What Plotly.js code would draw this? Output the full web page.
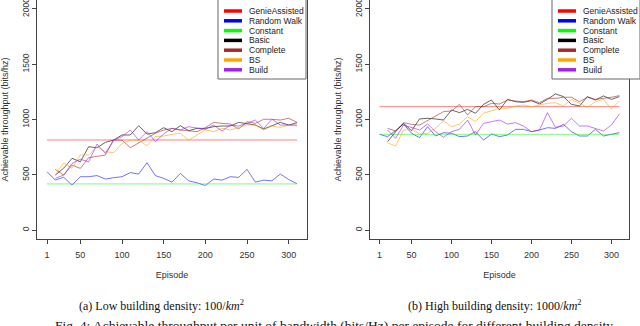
<!DOCTYPE html>
<html>
<head>
<meta charset="utf-8">
<script src="https://cdn.plot.ly/plotly-3.0.1.min.js"></script>
<style>
  html, body { margin: 0; padding: 0; background: #fff; }
  #plot { width: 640px; height: 326px; }
</style>
</head>
<body>
<div id="plot"></div>
<script>
// episode index (points every ~10 episodes), tick labels in episodes
let episodeIdx = [1,2,3,4,5,6,7,8,9,10,11,12,13,14,15,16,17,18,19,20,21,22,23,24,25,26,27,28,29,30,31];
let tickIdx = [1, 5, 10, 15, 20, 25, 30];
let tickText = ['1', '50', '100', '150', '200', '250', '300'];
let flatX = [1, 31];

// (a) low building density
let genieLow = [815, 815];
let constantLow = [418, 418];
let randomWalkLow = [528, 452, 478, 407, 483, 483, 493, 462, 474, 483, 520, 507, 609, 493, 468, 434, 513, 446, 428, 404, 462, 452, 483, 477, 549, 434, 452, 446, 507, 458, 419];
let basicLow = [null, 498, 560, 649, 618, 754, 745, 793, 814, 860, 860, 944, 868, 881, 926, 890, 944, 899, 920, 920, 935, 941, 941, 974, 965, 950, 914, 941, 974, 950, 971];
let completeLow = [null, 549, 498, 588, 558, 655, 664, 679, 814, 814, 745, 790, 830, 875, 905, 920, 905, 899, 890, 926, 974, 965, 959, 914, 980, 965, 1002, 1002, 995, 1011, 974];
let bsLow = [null, 500, 609, 560, 679, 679, 754, 709, 700, 784, 814, 814, 763, 845, 851, 866, 875, 814, 860, 905, 890, 920, 905, 929, 950, 950, 905, 941, 929, 950, 941];
let buildLow = [null, 468, 498, 603, 640, 618, 778, 694, 814, 845, 905, 814, 890, 800, 869, 920, 905, 935, 920, 911, 950, 896, 950, 941, 965, 995, 920, 1002, 950, 950, 950];

// (b) high building density
let genieHigh = [1116, 1116];
let constantHigh = [866, 866];
let randomWalkHigh = [866, 845, 900, 959, 875, 836, 935, 851, 881, 875, 845, 851, 890, 814, 869, 845, 860, 911, 911, 890, 905, 926, 920, 956, 890, 851, 851, 911, 851, 869, 881];
let basicHigh = [null, 799, 890, 965, 899, 1005, 1011, 1005, 995, 1086, 1062, 1092, 1056, 1137, 1176, 1086, 1182, 1161, 1155, 1170, 1140, 1182, 1231, 1207, 1137, 1122, 1207, 1176, 1213, 1182, 1207];
let completeHigh = [null, 920, 896, 971, 956, 950, 989, 1026, 1071, 1077, 1137, 1041, 1116, 1116, 1146, 1140, 1176, 1167, 1161, 1176, 1152, 1191, 1191, 1201, 1201, 1161, 1201, 1182, 1191, 1201, 1216];
let bsHigh = [null, 790, 760, 905, 911, 869, 875, 920, 989, 935, 959, 1026, 980, 1056, 1080, 1101, 1101, 1122, 1131, 1116, 1131, 1146, 1152, 1122, 1182, 1146, 1110, 1161, 1182, 1095, 1167];
let buildHigh = [null, 905, 830, 950, 929, 905, 959, 890, 839, 890, 911, 995, 860, 965, 980, 995, 959, 971, 941, 890, 905, 1062, 929, 941, 1011, 941, 941, 920, 896, 950, 1050];

let names = ['GenieAssisted', 'Random Walk', 'Constant', 'Basic', 'Complete', 'BS', 'Build'];
let colors = ['#ff0000', '#0000ff', '#00ff00', '#000000', '#a52a2a', '#ffa500', '#a020f0'];
let fade = ['rgba(255,0,0,0.5)', 'rgba(0,0,255,0.55)', 'rgba(0,255,0,0.5)', 'rgba(0,0,0,0.6)',
            'rgba(165,42,42,0.6)', 'rgba(255,165,0,0.6)', 'rgba(160,32,240,0.6)'];

function panel(xa, ya, series) {
  return series.map(function (s, k) {
    return {
      x: s.length === 2 ? flatX : episodeIdx,
      y: s,
      type: 'scatter',
      mode: 'lines',
      name: names[k],
      xaxis: xa,
      yaxis: ya,
      line: {color: fade[k], width: 1},
      connectgaps: false,
      hoverinfo: 'skip'
    };
  });
}

let data = panel('x', 'y', [genieLow, randomWalkLow, constantLow, basicLow, completeLow, bsLow, buildLow])
  .concat(panel('x2', 'y2', [genieHigh, randomWalkHigh, constantHigh, basicHigh, completeHigh, bsHigh, buildHigh]));

const W = 640, H = 326;
function px(v) { return v / W; }
function py(v) { return 1 - v / H; }

let tickFont = {family: 'Liberation Sans, Arial, sans-serif', size: 9, color: '#333'};

function xAxis(dom) {
  return {
    domain: dom, range: [-0.2, 32.2],
    tickmode: 'array', tickvals: tickIdx, ticktext: tickText,
    ticks: 'outside', ticklen: 4, tickcolor: '#444', ticklabelstandoff: 3,
    showline: true, mirror: true, linecolor: '#444', linewidth: 1,
    showgrid: false, zeroline: false, tickfont: tickFont,
    title: {text: 'Episode', font: tickFont, standoff: 12}
  };
}
function yAxis(anchor) {
  return {
    domain: [py(239), 1], range: [-80, 2080], anchor: anchor,
    tickmode: 'array', tickvals: [0, 500, 1000, 1500, 2000],
    ticks: 'outside', ticklen: 4, tickcolor: '#444', tickangle: -90,
    ticklabeloverflow: 'allow',
    showline: true, mirror: true, linecolor: '#444', linewidth: 1,
    showgrid: false, zeroline: false,
    tickfont: {family: 'Liberation Sans, Arial, sans-serif', size: 8.5, color: '#333'},
    title: {text: 'Achievable throughput (bits/hz)', font: tickFont, standoff: 10}
  };
}

// hand-made legends (thick line keys like the original)
let shapes = [];
let annotations = [];
[218, 552].forEach(function (left) {
  shapes.push({type: 'rect', xref: 'paper', yref: 'paper',
    x0: px(left), x1: px(left + 88), y0: py(79), y1: py(-2),
    line: {color: '#666', width: 1}, fillcolor: '#fff'});
  names.forEach(function (n, k) {
    let yy = 11 + k * 9.8;
    shapes.push({type: 'line', xref: 'paper', yref: 'paper',
      x0: px(left + 6), x1: px(left + 24), y0: py(yy), y1: py(yy),
      line: {color: colors[k], width: 3.5}});
    annotations.push({xref: 'paper', yref: 'paper', x: px(left + 29), y: py(yy),
      xanchor: 'left', yanchor: 'middle', showarrow: false, text: n,
      font: {family: 'Liberation Sans, Arial, sans-serif', size: 8.5, color: '#222'}});
  });
});

let capFont = {family: 'Liberation Serif, Times New Roman, serif', size: 12, color: '#111'};
annotations.push({xref: 'paper', yref: 'paper', x: px(161), y: py(305), xanchor: 'center', yanchor: 'middle',
  showarrow: false, text: '(a) Low building density: 100/<i>km</i><sup>2</sup>', font: capFont});
annotations.push({xref: 'paper', yref: 'paper', x: px(495), y: py(305), xanchor: 'center', yanchor: 'middle',
  showarrow: false, text: '(b) High building density: 1000/<i>km</i><sup>2</sup>', font: capFont});
annotations.push({xref: 'paper', yref: 'paper', x: px(53), y: py(316), xanchor: 'left', yanchor: 'top',
  showarrow: false, text: 'Fig. 4: Achievable throughput per unit of bandwidth (bits/Hz) per episode for different building density.',
  font: {family: 'Liberation Serif, Times New Roman, serif', size: 13.5, color: '#111'}});

let layout = {
  width: W, height: H,
  margin: {l: 0, r: 0, t: 0, b: 0},
  paper_bgcolor: '#fff', plot_bgcolor: '#fff',
  showlegend: false,
  xaxis: xAxis([px(37), px(307)]),
  yaxis: yAxis('x'),
  xaxis2: Object.assign(xAxis([px(370), px(629)]), {anchor: 'y2'}),
  yaxis2: yAxis('x2'),
  shapes: shapes,
  annotations: annotations
};

Plotly.newPlot('plot', data, layout, {staticPlot: true});
</script>
</body>
</html>
